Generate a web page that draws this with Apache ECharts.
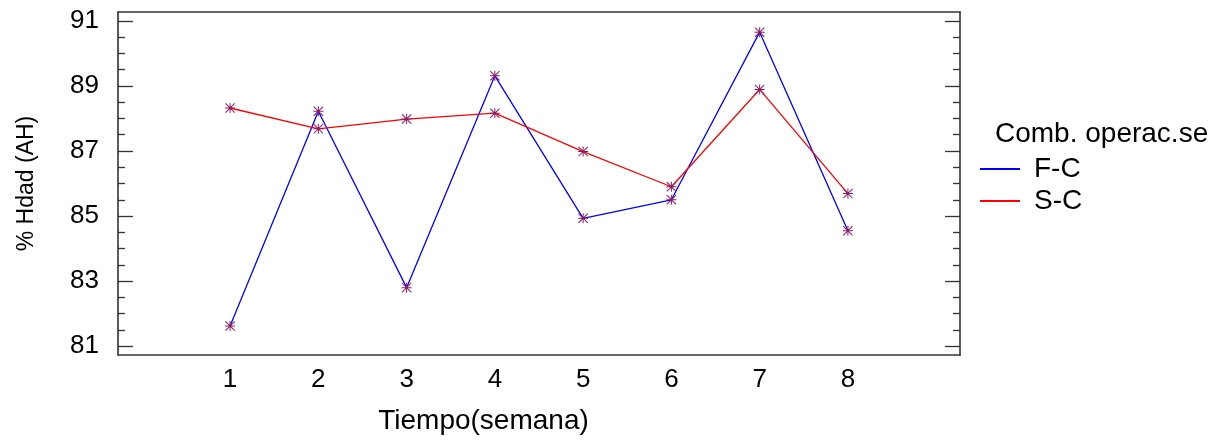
<!DOCTYPE html>
<html>
<head>
<meta charset="utf-8">
<script src="https://cdn.jsdelivr.net/npm/echarts@6/dist/echarts.min.js"></script>
<style>
html,body{margin:0;padding:0;background:#fff;}
#chart{width:1224px;height:440px;}
</style>
</head>
<body>
<div id="chart"></div>
<script>
var weeks = [1, 2, 3, 4, 5, 6, 7, 8];
var fcValues = [81.62, 88.22, 82.80, 89.31, 84.93, 85.50, 90.65, 84.55];
var scValues = [88.32, 87.68, 87.98, 88.16, 86.98, 85.90, 88.89, 85.69];
var yMajorTicks = [81, 83, 85, 87, 89, 91];
var yMinorTicks = [81.5, 82, 82.5, 83.5, 84, 84.5, 85.5, 86, 86.5, 87.5, 88, 88.5, 89.5, 90, 90.5];
var seriesNames = ['F-C', 'S-C'];
var legendTitle = 'Comb. operac.se';
var xTitle = 'Tiempo(semana)';
var yTitle = '% Hdad (AH)';

var FONT = 'Liberation Sans, Arial, sans-serif';
var FS = 26;
var FT = 28;
var AX = '#333333';
var MARK = '#8b1c62';
var asterisk = 'path://M4.5,0L5.5,0L5.5,10L4.5,10Z M0,4.5L10,4.5L10,5.5L0,5.5Z M0.7,0L10,9.3L9.3,10L0,0.7Z M9.3,0L10,0.7L0.7,10L0,9.3Z';

function pairs(vals) { return weeks.map(function (w, i) { return [w, vals[i]]; }); }

var yMin = 80.73, yMax = 91.27;
function yAx(pos, ticks, len, line, labels) {
  return {
    type: 'value', position: pos, min: yMin, max: yMax,
    splitLine: { show: false },
    axisLine: { show: line, onZero: false, lineStyle: { color: AX, width: 1.6 } },
    axisTick: { show: true, inside: true, length: len, customValues: ticks, lineStyle: { color: AX, width: 1.3 } },
    axisLabel: labels ? { show: true, customValues: yMajorTicks, margin: 19, color: '#000', fontFamily: FONT, fontSize: FS } : { show: false },
    name: labels ? yTitle : '',
    nameLocation: 'middle', nameGap: 80,
    nameTextStyle: { color: '#000', fontFamily: FONT, fontSize: 23 }
  };
}

var chart = echarts.init(document.getElementById('chart'), null, { renderer: 'canvas' });
chart.setOption({
  backgroundColor: '#ffffff',
  animation: false,
  grid: { left: 118, right: 264, top: 12, bottom: 83 },
  xAxis: [{
    type: 'value', position: 'bottom', min: -0.27, max: 9.27,
    splitLine: { show: false },
    axisLine: { show: true, onZero: false, lineStyle: { color: AX, width: 1.6 } },
    axisTick: { show: false },
    axisLabel: { customValues: weeks, margin: 12, color: '#000', fontFamily: FONT, fontSize: FS },
    name: xTitle, nameLocation: 'middle', nameGap: 52,
    nameTextStyle: { color: '#000', fontFamily: FONT, fontSize: FT, padding: [0, 111, 0, 0] }
  }, {
    type: 'value', position: 'top', min: -0.27, max: 9.27,
    splitLine: { show: false },
    axisLine: { show: true, onZero: false, lineStyle: { color: AX, width: 1.6 } },
    axisTick: { show: false }, axisLabel: { show: false }
  }],
  yAxis: [
    yAx('left', yMajorTicks, 15, true, true),
    yAx('left', yMinorTicks, 7, false, false),
    yAx('right', yMajorTicks, 15, true, false),
    yAx('right', yMinorTicks, 7, false, false)
  ],
  legend: {
    orient: 'vertical', left: 975, top: 150, itemWidth: 40, itemHeight: 2, itemGap: 4,
    textStyle: { color: '#000', fontFamily: FONT, fontSize: FT, padding: [0, 0, 0, 9] },
    data: [
      { name: seriesNames[0], icon: 'rect', itemStyle: { color: '#0000ff' } },
      { name: seriesNames[1], icon: 'rect', itemStyle: { color: '#ff0000' } }
    ]
  },
  graphic: [{
    type: 'text', left: 995, top: 120,
    style: { text: legendTitle, fill: '#000', font: FT + 'px ' + FONT }
  }],
  series: [{
    name: seriesNames[0], type: 'line', data: pairs(fcValues),
    xAxisIndex: 0, yAxisIndex: 0,
    lineStyle: { color: '#0000ff', width: 1.3 },
    symbol: asterisk, symbolSize: 10, itemStyle: { color: MARK },
    emphasis: { disabled: true }
  }, {
    name: seriesNames[1], type: 'line', data: pairs(scValues),
    xAxisIndex: 0, yAxisIndex: 0,
    lineStyle: { color: '#ff0000', width: 1.3 },
    symbol: asterisk, symbolSize: 10, itemStyle: { color: MARK },
    emphasis: { disabled: true }
  }]
});
</script>
</body>
</html>
